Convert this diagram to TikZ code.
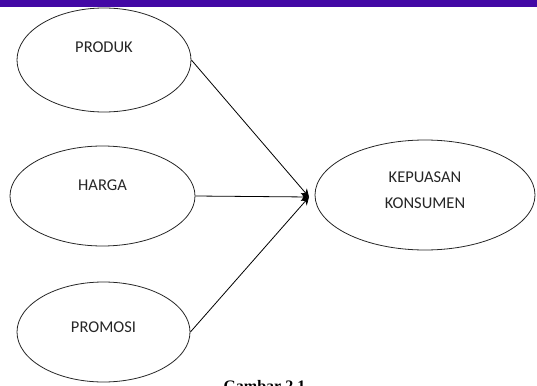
\documentclass[tikz,border=0pt]{standalone}
\usepackage{fontspec}
\setmainfont{Carlito}
\newfontfamily\capfont{Liberation Serif}
\usepackage{xcolor}
\usetikzlibrary{shapes.geometric,arrows.meta}
\definecolor{barpurple}{RGB}{67,8,165}

\begin{document}
\begin{tikzpicture}[x=1pt,y=-1pt]
            \tikzset{
            vr node/.style={ellipse,draw=black!85,line width=0.8pt,inner sep=0},
            vr text/.style={font=\fontsize{16.5}{26}\selectfont,text=black!85,align=center},
            vr edge/.style={-{Stealth[length=8pt,width=8pt]},line width=0.8pt}
            }
            \useasboundingbox (0,0) rectangle (537,385);
            \begin{scope}
            \clip (0,0) rectangle (537,385);
            \node[vr node,minimum width=174pt,minimum height=104pt,
                  label={[vr text,yshift=13pt]center:PRODUK}] (prod) at (104, 60) {};
            \node[vr node,minimum width=185pt,minimum height=100pt,
                  label={[vr text,yshift=11pt]center:HARGA}] (harga) at (102.5, 196) {};
            \node[vr node,minimum width=173pt,minimum height=100pt,
                  label={[vr text,yshift=5pt]center:PROMOSI}] (prom) at (103.5, 332) {};
            \node[vr node,minimum width=220pt,minimum height=110pt,
                  label={[vr text,yshift=5pt]center:KEPUASAN\\KONSUMEN}] (puas) at (425, 195) {};
            \coordinate (tip) at (309, 197);

            \path[draw]
            (prod.east) edge[vr edge] (tip)
            (harga.east) edge[vr edge] (tip)
            (prom.east) edge[vr edge] (tip)
            ;

            \node[anchor=base west,font=\capfont\bfseries\fontsize{16}{18}\selectfont] (cap) at (220, 391) {Gambar 2.1};
            \end{scope}
            \fill[barpurple] (0,0) rectangle (537,7);
        \end{tikzpicture}
\end{document}
